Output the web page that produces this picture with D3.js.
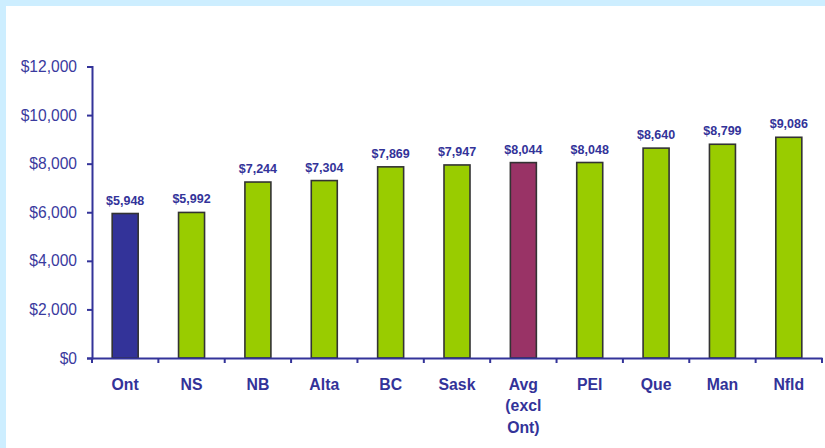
<!DOCTYPE html>
<html><head><meta charset="utf-8">
<script src="https://cdn.jsdelivr.net/npm/d3@7"></script>
<style>html,body{margin:0;padding:0;background:#fff;}svg{display:block;}</style>
</head><body>
<script>
const categories = ["Ont","NS","NB","Alta","BC","Sask","Avg (excl Ont)","PEI","Que","Man","Nfld"];
const values = [5948,5992,7244,7304,7869,7947,8044,8048,8640,8799,9086];
const barColors = ["#333399","#99cc00","#99cc00","#99cc00","#99cc00","#99cc00","#993366","#99cc00","#99cc00","#99cc00","#99cc00"];
const tickValues = [0,2000,4000,6000,8000,10000,12000];

const W = 825, H = 448;
const svg = d3.select("body").append("svg").attr("width", W).attr("height", H);
svg.append("rect").attr("width", W).attr("height", H).attr("fill", "#cdeeff");
svg.append("rect").attr("x", 6).attr("y", 6).attr("width", W-6).attr("height", H-6).attr("fill", "#fff");

const axisColor = "#333399";
const x = d3.scaleBand().domain(categories).range([92, 822]).paddingInner(0).paddingOuter(0);
const y = d3.scaleLinear().domain([0, 12000]).range([358, 66.5]);

const fmt = d => "$" + d3.format(",")(d);

// bars
svg.selectAll("rect.bar").data(values).enter().append("rect")
  .attr("class","bar")
  .attr("x", (d,i) => x(categories[i]) + x.bandwidth()/2 - 13)
  .attr("width", 26)
  .attr("y", d => y(d))
  .attr("height", d => y(0) - y(d))
  .attr("fill", (d,i) => barColors[i])
  .attr("stroke", "#333333").attr("stroke-width", 1.6);

// value labels
svg.selectAll("text.val").data(values).enter().append("text")
  .attr("class","val")
  .attr("x", (d,i) => x(categories[i]) + x.bandwidth()/2)
  .attr("y", d => y(d) - 9)
  .attr("text-anchor","middle")
  .attr("font-family","Liberation Sans, Arial, sans-serif")
  .attr("font-weight","bold").attr("font-size", 12.5)
  .attr("fill", axisColor)
  .text(fmt);

// y axis
const yAxis = svg.append("g").attr("transform","translate(92,0)")
  .call(d3.axisLeft(y).tickValues(tickValues).tickFormat(fmt).tickSize(5).tickPadding(10));
yAxis.select(".domain").attr("stroke", axisColor).attr("stroke-width", 2);
yAxis.selectAll(".tick line").attr("stroke", axisColor).attr("stroke-width", 2);
yAxis.selectAll(".tick text").attr("fill", "#3a3a9e")
  .attr("font-family","Liberation Sans, Arial, sans-serif").attr("font-size", 15.6);

// x axis
const xAxis = svg.append("g").attr("transform","translate(0,358)")
  .call(d3.axisBottom(x).tickSize(0).tickFormat(""));
xAxis.select(".domain").attr("stroke", axisColor).attr("stroke-width", 2);
xAxis.selectAll(".tick").remove();
const boundaries = categories.map(c => x(c)).concat([x.range()[1]]);
xAxis.selectAll("line.bt").data(boundaries).enter().append("line")
  .attr("class","bt").attr("x1", d => d).attr("x2", d => d)
  .attr("y1", 0).attr("y2", 5).attr("stroke", axisColor).attr("stroke-width", 2);

// category labels
const cl = svg.selectAll("text.cat").data(categories).enter().append("text")
  .attr("class","cat")
  .attr("text-anchor","middle")
  .attr("font-family","Liberation Sans, Arial, sans-serif")
  .attr("font-weight","bold").attr("font-size", 15.8)
  .attr("fill", axisColor);
cl.each(function(c){
  const t = d3.select(this);
  const lines = c === "Avg (excl Ont)" ? ["Avg","(excl","Ont)"] : [c];
  lines.forEach((l,k) => {
    t.append("tspan").attr("x", x(c) + x.bandwidth()/2).attr("y", 389.5 + k*21.5).text(l);
  });
});
</script>
</body></html>
